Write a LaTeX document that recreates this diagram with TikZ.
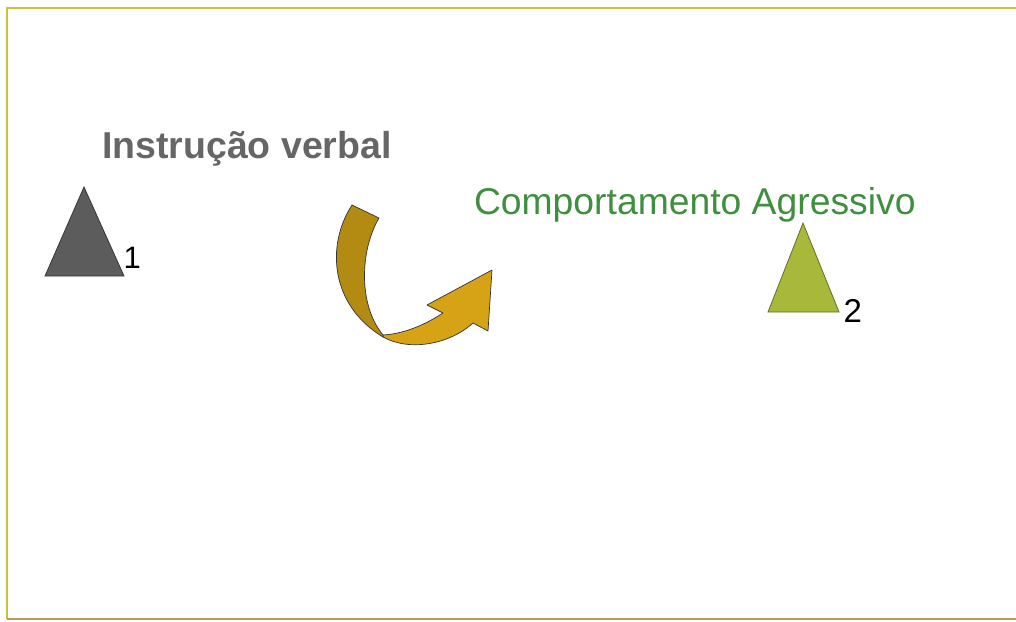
\documentclass[tikz,border=0pt]{standalone}
\usepackage{fontspec}
\setmainfont{Liberation Sans}
\definecolor{frameA}{HTML}{C8C23C}
\definecolor{frameB}{HTML}{B89A5A}
\definecolor{grayTxt}{HTML}{666666}
\definecolor{greenTxt}{HTML}{3F8F3F}
\definecolor{triA}{HTML}{5C5C5C}
\definecolor{triB}{HTML}{A8B83A}
\definecolor{arrDark}{HTML}{B38B12}
\definecolor{arrLight}{HTML}{D6A316}
\tikzset{
  lbl/.style={anchor=base west, inner sep=0pt, outer sep=0pt},
  tri/.style={draw=#1!60!black, line width=0.8pt, line join=miter},
  ribbon/.style={draw=black!80, line width=0.7pt, line join=round}
}
\begin{document}
\begin{tikzpicture}[x=1pt,y=-1pt]
\useasboundingbox (0,0) rectangle (1016,621);
\fill[white] (0,0) rectangle (1016,621);
% frame
\draw[frameA, line width=1.5pt] (1016,8) -- (7,8) -- (7,619);
\draw[frameB, line width=1.5pt] (7,619) -- (1016,619);
% texts
\node[lbl, text=grayTxt, font=\fontsize{37.5}{40}\selectfont\bfseries] (instr) at (102,158) {Instrução verbal};
\node[lbl, text=greenTxt, font=\fontsize{37.3}{40}\selectfont] (comp) at (474,214) {Comportamento Agressivo};
% triangles
\coordinate (t1) at (84,187);
\draw[tri=triA, fill=triA] (t1) -- (124,276) -- (45,276) -- cycle;
\node[lbl, font=\fontsize{31}{34}\selectfont] (n1) at (123.5,268) {1};
\coordinate (t2) at (803,223);
\draw[tri=triB, fill=triB] (t2) -- (839,312) -- (768,312) -- cycle;
\node[lbl, font=\fontsize{33}{36}\selectfont] (n2) at (843.5,322) {2};
% curved arrow
\coordinate (tailA) at (352,205);
\coordinate (tailB) at (379,218);
\coordinate (fold) at (383,337);
\draw[ribbon, fill=arrLight] (fold) .. controls (410,352) and (450,344) .. (473,323)
  -- (488,331) -- (492,270) -- (427,305) -- (443,313)
  .. controls (420,328) and (400,334) .. (383,335) -- cycle;
\draw[ribbon, fill=arrDark] (tailA) -- (tailB)
  .. controls (360,250) and (358,305) .. (383,335)
  -- (fold)
  .. controls (330,305) and (326,245) .. (tailA) -- cycle;
\end{tikzpicture}
\end{document}
